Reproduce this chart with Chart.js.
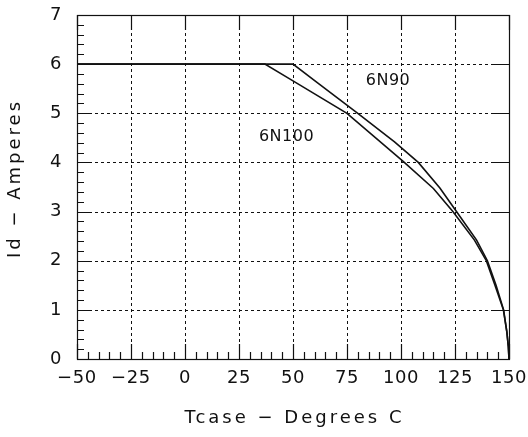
<!DOCTYPE html>
<html>
<head>
<meta charset="utf-8">
<script src="https://cdn.jsdelivr.net/npm/chart.js@4.4.1/dist/chart.umd.min.js"></script>
<style>
html,body{margin:0;padding:0;background:#fff}
#wrap{width:528px;height:437px;position:relative}
</style>
</head>
<body>
<div id="wrap"><canvas id="chart"></canvas></div>
<script>
// values
const tempN90=[-50,50,62,80,97,108,118,126,135,140,144,147.5,149,149.7,150];
const idN90=[6,6,5.6,5.0,4.42,4.0,3.48,2.98,2.42,2.0,1.5,1.0,0.55,0.25,0];
const tempN100=[-50,37,50,75,101,115,124,134,139.5,143.5,147.4,149,149.7,150];
const idN100=[6,6,5.66,5.0,4.02,3.47,3.0,2.42,2.0,1.5,1.0,0.55,0.25,0];
const seriesNames=['6N90','6N100'];
const nameAtTemp=[94,47];
const nameAtId=[5.66,4.52];
const xTicks=[-50,-25,0,25,50,75,100,125,150];
const yTicks=[0,1,2,3,4,5,6,7];
const xTitle='Tcase − Degrees C';
const yTitle='Id − Amperes';

const FONT='"DejaVu Sans", sans-serif';
const INK='#111';

function pts(xs,ys){return xs.map((x,i)=>({x,y:ys[i]}))}

// inside ticks, dashed grid, frame and axis titles, drawn from the scales
const frame={
  id:'frame',
  beforeUpdate(c){c.ctx.letterSpacing='0.6px'},
  beforeDraw(c){c.ctx.letterSpacing='0.6px'},
  beforeDatasetsDraw(c){
    const {ctx,chartArea:a,scales:{x,y}}=c;
    ctx.save();
    ctx.strokeStyle=INK; ctx.lineWidth=1; ctx.setLineDash([3,3]);
    ctx.beginPath();
    xTicks.slice(1,-1).forEach(v=>{const px=Math.round(x.getPixelForValue(v))+0.5;ctx.moveTo(px,a.top);ctx.lineTo(px,a.bottom)});
    yTicks.slice(1,-1).forEach(v=>{const py=Math.round(y.getPixelForValue(v))+0.5;ctx.moveTo(a.left,py);ctx.lineTo(a.right,py)});
    ctx.stroke();
    ctx.restore();
  },
  afterDatasetsDraw(c){
    const {ctx,chartArea:a,scales:{x,y}}=c;
    ctx.save();
    ctx.strokeStyle=INK; ctx.lineWidth=1.2; ctx.setLineDash([]);
    ctx.beginPath();
    // minor ticks, left and bottom
    for(let v=0;v<=7.001;v+=0.2){const py=Math.round(y.getPixelForValue(v))+0.5;ctx.moveTo(a.left,py);ctx.lineTo(a.left+7,py)}
    for(let v=-50;v<=150;v+=5){const px=Math.round(x.getPixelForValue(v))+0.5;ctx.moveTo(px,a.bottom);ctx.lineTo(px,a.bottom-7)}
    // major ticks on all four sides
    yTicks.forEach(v=>{const py=Math.round(y.getPixelForValue(v))+0.5;ctx.moveTo(a.left,py);ctx.lineTo(a.left+15,py);ctx.moveTo(a.right,py);ctx.lineTo(a.right-15,py)});
    xTicks.forEach(v=>{const px=Math.round(x.getPixelForValue(v))+0.5;ctx.moveTo(px,a.bottom);ctx.lineTo(px,a.bottom-15);ctx.moveTo(px,a.top);ctx.lineTo(px,a.top+15)});
    ctx.stroke();
    ctx.strokeRect(Math.round(a.left)+0.5,Math.round(a.top)+0.5,Math.round(a.right-a.left),Math.round(a.bottom-a.top));
    ctx.fillStyle=INK; ctx.textAlign='center'; ctx.textBaseline='middle';
    // curve names
    ctx.letterSpacing='0.5px';
    ctx.font='16px '+FONT;
    seriesNames.forEach((n,i)=>ctx.fillText(n,x.getPixelForValue(nameAtTemp[i]),y.getPixelForValue(nameAtId[i])));
    // axis titles
    ctx.letterSpacing='3px';
    ctx.font='18px '+FONT;
    ctx.fillText(xTitle,(a.left+a.right)/2+1.5,x.bottom-19);
    ctx.translate(y.left+15,(a.top+a.bottom)/2-7);
    ctx.rotate(-Math.PI/2);
    ctx.fillText(yTitle,1.5,0);
    ctx.restore();
  }
};

new Chart(document.getElementById('chart'),{
  type:'scatter',
  data:{datasets:[
    {label:seriesNames[0],data:pts(tempN90,idN90)},
    {label:seriesNames[1],data:pts(tempN100,idN100)}
  ]},
  options:{
    responsive:true,maintainAspectRatio:false,animation:false,
    showLine:true,
    elements:{point:{radius:0},line:{borderColor:INK,borderWidth:1.6,tension:0}},
    layout:{padding:{top:15,right:19,left:0,bottom:0}},
    plugins:{legend:{display:false},tooltip:{enabled:false}},
    scales:{
      x:{type:'linear',min:-50,max:150,
        afterBuildTicks(s){s.ticks=xTicks.map(v=>({value:v}))},
        afterFit(s){s.height=78;s.paddingLeft=0;s.paddingRight=0},
        grid:{display:false,drawTicks:false},border:{display:false},
        ticks:{color:INK,font:{family:FONT,size:18},padding:9,maxRotation:0,autoSkip:false,
          callback:v=>String(v).replace('-','−')},
        title:{display:false}
      },
      y:{type:'linear',min:0,max:7,
        afterBuildTicks(s){s.ticks=yTicks.map(v=>({value:v}))},
        afterFit(s){s.width=77;s.paddingTop=0;s.paddingBottom=0},
        grid:{display:false,drawTicks:false},border:{display:false},
        ticks:{color:INK,font:{family:FONT,size:18},padding:15},
        title:{display:false}
      }
    }
  },
  plugins:[frame]
});
</script>
</body>
</html>
